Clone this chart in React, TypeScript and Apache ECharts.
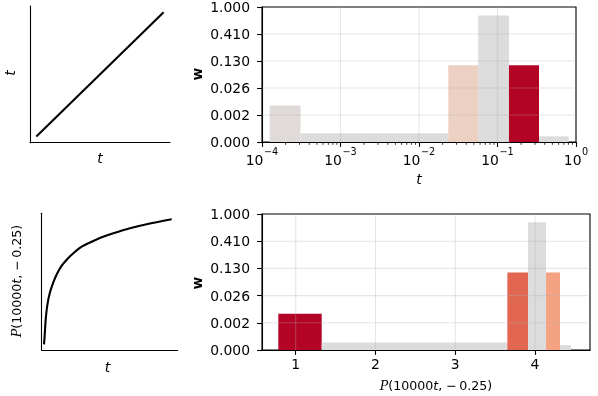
import React, { useEffect, useRef } from "react";
import * as echarts from "echarts";

// ---- data ----
const topBinEdges = [1.25e-4, 3.1e-4, 0.0236, 0.0569, 0.14, 0.338, 0.807];
const topWeights = [0.0053, 0.0000186, 0.105, 0.771, 0.105, 0.000003];
const topColors = ["#e0dbd8", "#dcdcdc", "#ecd0c2", "#dcdcdc", "#b40426", "#dcdcdc"];

const botBinEdges = [0.782, 1.326, 3.653, 3.912, 4.138, 4.313, 4.451];
const botWeights = [0.0051, 0.0000098, 0.1055, 0.781, 0.1055, 0.0000018];
const botColors = ["#b40426", "#dcdcdc", "#e16751", "#dcdcdc", "#f4a282", "#dcdcdc"];

const yTickPositions = [0, 0.2, 0.4, 0.6, 0.8, 1.0];
const yTickLabels = ["0.000", "0.002", "0.026", "0.130", "0.410", "1.000"];

const topTickExponents = [-4, -3, -2, -1, 0];
const minorMultipliers = [2, 3, 4, 5, 6, 7, 8, 9];
const botTicks = [1, 2, 3, 4];

const lineT = [0, 1];
const lineY = [0, 1];

const curveT = [0, 0.0055, 0.013, 0.026, 0.047, 0.073, 0.104, 0.139, 0.183, 0.23, 0.295, 0.373, 0.452, 0.543, 0.673, 0.804, 1.0];
const curveP = [0, 0.074, 0.194, 0.314, 0.416, 0.496, 0.568, 0.629, 0.682, 0.728, 0.781, 0.821, 0.856, 0.888, 0.928, 0.96, 1.0];

const FONT = "DejaVu Sans";
const FS = 13.9;
const TFS = 12.6;

// display scale: y shown as w^(1/4)
const toDisplay = (w: number) => Math.pow(w, 0.25);

function barData(edges: number[], weights: number[], colors: string[]) {
  return weights.map((w, i) => ({
    value: [edges[i], edges[i + 1], toDisplay(w)],
    itemStyle: { color: colors[i] },
  }));
}

const barRender = (params: any, api: any) => {
  const x0 = api.value(0);
  const x1 = api.value(1);
  const h = api.value(2);
  const p0 = api.coord([x0, 0]);
  const p1 = api.coord([x1, h]);
  return {
    type: "rect",
    shape: { x: p0[0], y: p1[1], width: p1[0] - p0[0], height: p0[1] - p1[1] },
    style: { fill: api.visual("color") },
  };
};

const GRIDCOL = "rgba(176,176,176,0.32)";

const hGridRender = (refX: number) => (params: any, api: any) => {
  const cs = params.coordSys;
  const y = api.coord([refX, api.value(1)])[1];
  return {
    type: "line",
    shape: { x1: cs.x, y1: y, x2: cs.x + cs.width, y2: y },
    style: { stroke: GRIDCOL, lineWidth: 1.1 },
  };
};
const vGridRender = (params: any, api: any) => {
  const cs = params.coordSys;
  const x = api.coord([api.value(0), 0.5])[0];
  return {
    type: "line",
    shape: { x1: x, y1: cs.y, x2: x, y2: cs.y + cs.height },
    style: { stroke: GRIDCOL, lineWidth: 1.1 },
  };
};
const minorTickRender = (params: any, api: any) => {
  const p = api.coord([api.value(0), 0]);
  return {
    type: "line",
    shape: { x1: p[0], y1: p[1], x2: p[0], y2: p[1] + 2.8 },
    style: { stroke: "#000", lineWidth: 0.8 },
  };
};

const titleRich = {
  c: { fontFamily: "DejaVu Serif", fontStyle: "italic", fontSize: TFS },
  i: { fontStyle: "italic", fontFamily: FONT, fontSize: TFS },
};
const P_TITLE = "{c|P}(10000{i|t}, \u2212\u20090.25)";

export default function App() {
  const ref = useRef<HTMLDivElement>(null);
  useEffect(() => {
    if (!ref.current) return;
    const chart = echarts.init(ref.current, undefined, { renderer: "svg" });

    const topMajor = topTickExponents.map((e) => Math.pow(10, e));
    const topMinor: number[] = [];
    topTickExponents.slice(0, -1).forEach((e) => {
      minorMultipliers.forEach((m) => topMinor.push(m * Math.pow(10, e)));
    });
    const yInterior = yTickPositions.filter((v) => v > 0 && v < 1);

    const spine = { show: true, onZero: false, lineStyle: { color: "#000", width: 1.1 } };
    const noAxis = { axisTick: { show: false }, axisLabel: { show: false }, splitLine: { show: false } };
    const yLabel = {
      fontFamily: FONT,
      fontSize: FS,
      color: "#000",
      margin: 12,
      formatter: (v: number) => {
        const i = yTickPositions.findIndex((p) => Math.abs(p - v) < 1e-6);
        return i >= 0 ? yTickLabels[i] : "";
      },
    };
    const tick = { show: true, length: 4.9, lineStyle: { color: "#000", width: 1.1 } };

    const option: any = {
      animation: false,
      grid: [
        { left: 30, top: 6, width: 140, height: 136.7, show: false },
        { left: 262, top: 5, width: 314, height: 137, show: true, borderColor: "#000", borderWidth: 1.1, backgroundColor: "transparent" },
        { left: 41.7, top: 213.3, width: 136, height: 136.7, show: false },
        { left: 262, top: 214, width: 328, height: 136, show: true, borderColor: "#000", borderWidth: 1.1, backgroundColor: "transparent" },
      ],
      xAxis: [
        { gridIndex: 0, type: "value", min: -0.05, max: 1.05, axisLine: spine, ...noAxis },
        {
          gridIndex: 1,
          type: "log",
          logBase: 10,
          min: 1e-4,
          max: 1,
          axisLine: spine,
          axisTick: tick,
          splitLine: { show: false },
          axisLabel: {
            margin: 4,
            formatter: (v: number) => {
              const e = Math.round(Math.log10(v));
              return `{b|10}{s|${e < 0 ? "\u2212" : ""}${Math.abs(e)}}`;
            },
            rich: {
              b: { fontFamily: FONT, fontSize: FS, color: "#000", verticalAlign: "bottom", padding: [7, 0, 0, 0] },
              s: { fontFamily: FONT, fontSize: 9.7, color: "#000", verticalAlign: "top", padding: [0, 0, 0, 0.5] },
            },
          },
        },
        { gridIndex: 2, type: "value", min: -0.018, max: 1.047, axisLine: spine, ...noAxis },
        {
          gridIndex: 3,
          type: "value",
          min: 0.5775,
          max: 4.689,
          axisLine: spine,
          axisTick: { ...tick, customValues: botTicks },
          splitLine: { show: false },
          axisLabel: { fontFamily: FONT, fontSize: FS, color: "#000", margin: 7, customValues: botTicks },
        },
      ],
      yAxis: [
        { gridIndex: 0, type: "value", min: -0.05, max: 1.05, axisLine: spine, ...noAxis },
        { gridIndex: 1, type: "value", min: 0, max: 1, interval: 0.2, axisLine: spine, axisTick: tick, splitLine: { show: false }, axisLabel: yLabel },
        { gridIndex: 2, type: "value", min: -0.0456, max: 1.048, axisLine: spine, ...noAxis },
        { gridIndex: 3, type: "value", min: 0, max: 1, interval: 0.2, axisLine: spine, axisTick: tick, splitLine: { show: false }, axisLabel: yLabel },
      ],
      series: [
        {
          type: "line",
          xAxisIndex: 0,
          yAxisIndex: 0,
          data: lineT.map((t, i) => [t, lineY[i]]),
          showSymbol: false,
          lineStyle: { color: "#000", width: 2.1 },
        },
        {
          type: "line",
          xAxisIndex: 2,
          yAxisIndex: 2,
          data: curveT.map((t, i) => [t, curveP[i]]),
          showSymbol: false,
          smooth: 0.3,
          lineStyle: { color: "#000", width: 2.1 },
        },
        {
          type: "custom",
          xAxisIndex: 1,
          yAxisIndex: 1,
          renderItem: barRender,
          encode: { x: [0, 1], y: 2 },
          data: barData(topBinEdges, topWeights, topColors),
          z: 2,
        },
        {
          type: "custom",
          xAxisIndex: 3,
          yAxisIndex: 3,
          renderItem: barRender,
          encode: { x: [0, 1], y: 2 },
          data: barData(botBinEdges, botWeights, botColors),
          z: 2,
        },
        { type: "custom", xAxisIndex: 1, yAxisIndex: 1, renderItem: hGridRender(0.01), data: yInterior.map((v) => [0.01, v]), z: 3, silent: true },
        { type: "custom", xAxisIndex: 1, yAxisIndex: 1, renderItem: vGridRender, data: topMajor.slice(1, -1).map((v) => [v, 0.5]), z: 3, silent: true },
        { type: "custom", xAxisIndex: 3, yAxisIndex: 3, renderItem: hGridRender(2), data: yInterior.map((v) => [2, v]), z: 3, silent: true },
        { type: "custom", xAxisIndex: 3, yAxisIndex: 3, renderItem: vGridRender, data: botTicks.map((v) => [v, 0.5]), z: 3, silent: true },
        { type: "custom", xAxisIndex: 1, yAxisIndex: 1, renderItem: minorTickRender, clip: false, data: topMinor.map((v) => [v, 0]), z: 4, silent: true },
      ],
      graphic: [
        { type: "text", x: 10, y: 73, rotation: Math.PI / 2, style: { text: "t", font: `italic ${FS}px "${FONT}"`, fill: "#000", align: "center", verticalAlign: "middle" } },
        { type: "text", x: 100, y: 158, style: { text: "t", font: `italic ${FS}px "${FONT}"`, fill: "#000", align: "center", verticalAlign: "middle" } },
        { type: "text", x: 197, y: 74, rotation: Math.PI / 2, style: { text: "w", font: `bold ${FS}px "${FONT}"`, fill: "#000", align: "center", verticalAlign: "middle" } },
        { type: "text", x: 419, y: 179, style: { text: "t", font: `italic ${FS}px "${FONT}"`, fill: "#000", align: "center", verticalAlign: "middle" } },
        {
          type: "text",
          x: 16,
          y: 281,
          rotation: Math.PI / 2,
          style: { text: P_TITLE, font: `${TFS}px "${FONT}"`, fill: "#000", align: "center", verticalAlign: "middle", rich: titleRich },
        },
        { type: "text", x: 107.5, y: 367, style: { text: "t", font: `italic ${FS}px "${FONT}"`, fill: "#000", align: "center", verticalAlign: "middle" } },
        { type: "text", x: 197, y: 283, rotation: Math.PI / 2, style: { text: "w", font: `bold ${FS}px "${FONT}"`, fill: "#000", align: "center", verticalAlign: "middle" } },
        {
          type: "text",
          x: 436,
          y: 385,
          style: { text: P_TITLE, font: `${TFS}px "${FONT}"`, fill: "#000", align: "center", verticalAlign: "middle", rich: titleRich },
        },
      ],
    };
    chart.setOption(option);
    return () => chart.dispose();
  }, []);
  return <div ref={ref} style={{ position: "fixed", left: 0, top: 0, width: 598, height: 396 }} />;
}
